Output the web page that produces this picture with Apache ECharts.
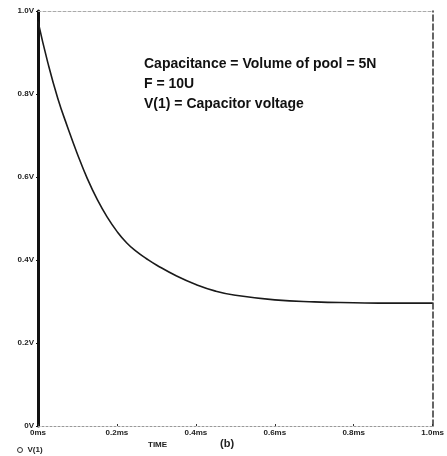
<!DOCTYPE html>
<html><head><meta charset="utf-8">
<script src="https://cdn.jsdelivr.net/npm/echarts@6/dist/echarts.min.js"></script>
<style>html,body{margin:0;padding:0;background:#fff}#c{width:447px;height:456px}</style>
</head><body><div id="c"></div>
<script>
const timeMs = [0, 0.025, 0.05, 0.075, 0.1, 0.125, 0.15, 0.175, 0.2, 0.225, 0.25, 0.275, 0.3, 0.35, 0.4, 0.45, 0.5, 0.6, 0.7, 0.8, 0.9, 1.0];
const voltage = [0.975, 0.875, 0.79, 0.72, 0.655, 0.596, 0.546, 0.504, 0.469, 0.441, 0.42, 0.403, 0.388, 0.362, 0.341, 0.325, 0.315, 0.304, 0.299, 0.297, 0.296, 0.296];
const xTickLabels = ['0ms', '0.2ms', '0.4ms', '0.6ms', '0.8ms', '1.0ms'];
const yTickLabels = ['0V', '0.2V', '0.4V', '0.6V', '0.8V', '1.0V'];
const annotationLines = ['Capacitance = Volume of pool = 5N', 'F = 10U', 'V(1) = Capacitor voltage'];
const seriesName = 'V(1)';

const chart = echarts.init(document.getElementById('c'), null, {renderer: 'canvas'});
const lblFont = {fontFamily: 'Liberation Sans', fontWeight: 'bold', fontSize: 8, color: '#222'};
chart.setOption({
  animation: false,
  backgroundColor: '#fff',
  grid: {left: 38, right: 3, top: 11, bottom: 30},
  legend: {
    data: [seriesName], left: 12, top: 441, icon: 'circle', itemWidth: 5, itemHeight: 5, itemGap: 6,
    itemStyle: {color: '#fff', borderColor: '#333', borderWidth: 1},
    textStyle: {fontFamily: 'Liberation Sans', fontWeight: 'bold', fontSize: 8, color: '#222'}
  },
  xAxis: [{
    type: 'value', min: 0, max: 1.0, interval: 0.2,
    axisLine: {show: true, lineStyle: {color: '#999', type: [2, 2], width: 1}},
    axisTick: {show: true, length: 2, inside: true, lineStyle: {color: '#333'}},
    splitLine: {show: false},
    axisLabel: Object.assign({margin: 3, formatter: (v) => xTickLabels[Math.round(v / 0.2)], align: 'center'}, lblFont)
  }, {
    type: 'value', min: 0, max: 1.0, position: 'top',
    axisLine: {show: true, onZero: false, lineStyle: {color: '#aaa', type: [3, 2], width: 1}},
    axisTick: {show: false}, axisLabel: {show: false}, splitLine: {show: false}
  }],
  yAxis: [{
    type: 'value', min: 0, max: 1.0, interval: 0.2,
    axisLine: {show: true, lineStyle: {color: '#111', width: 3}},
    axisTick: {show: true, length: 2, lineStyle: {color: '#111'}},
    splitLine: {show: false},
    axisLabel: Object.assign({margin: 4, formatter: (v) => yTickLabels[Math.round(v / 0.2)]}, lblFont)
  }, {
    type: 'value', min: 0, max: 1.0, position: 'right',
    axisLine: {show: true, onZero: false, lineStyle: {color: '#333', type: [6, 3], width: 1.5}},
    axisTick: {show: false}, axisLabel: {show: false}, splitLine: {show: false}
  }],
  series: [{
    name: seriesName, type: 'line', smooth: 0.5, symbol: 'none',
    lineStyle: {color: '#1a1a1a', width: 1.6},
    data: timeMs.map((t, i) => [t, voltage[i]])
  }],
  graphic: [
    {type: 'text', left: 144, top: 54, style: {text: annotationLines.join('\n'), lineHeight: 20, font: 'bold 14px "Liberation Sans"', fill: '#111'}},
    {type: 'text', left: 148, top: 441, style: {text: 'TIME', font: 'bold 8px "Liberation Sans"', fill: '#222'}},
    {type: 'text', left: 220, top: 438, style: {text: '(b)', font: 'bold 11px "Liberation Sans"', fill: '#222'}}
  ]
});
</script></body></html>
